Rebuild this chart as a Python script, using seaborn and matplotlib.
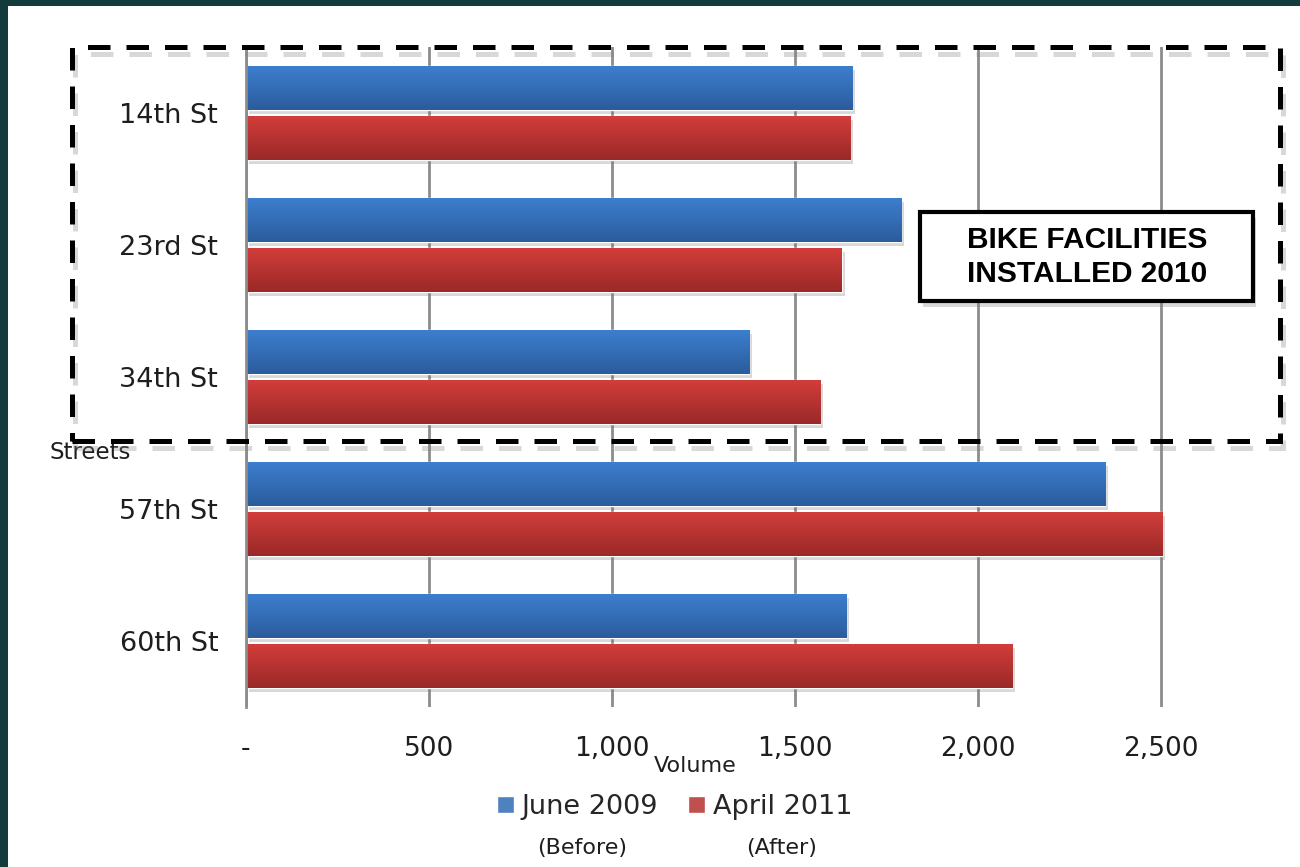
import numpy as np
import pandas as pd
import seaborn as sns
import matplotlib.pyplot as plt
import matplotlib.patheffects as pe
from matplotlib.patches import Rectangle
from matplotlib.colors import to_rgb

# Datos del gráfico
calles = ['14th St', '23rd St', '34th St', '57th St', '60th St']
junio_2009 = [1656, 1790, 1374, 2347, 1639]
abril_2011 = [1650, 1628, 1568, 2503, 2093]
periodos = ['June 2009', 'April 2011']
etiquetas_x = ['-', '500', '1,000', '1,500', '2,000', '2,500']
valores_x = [0, 500, 1000, 1500, 2000, 2500]

df = pd.DataFrame({
    'calle': calles * 2,
    'volumen': junio_2009 + abril_2011,
    'periodo': [periodos[0]] * len(calles) + [periodos[1]] * len(calles),
})

sns.set_style('white')
plt.rcParams['font.family'] = ['DejaVu Sans']

azul_claro, azul_oscuro = '#3d7fd0', '#2b5c9c'
rojo_claro, rojo_oscuro = '#d23e3b', '#9b2928'
texto = '#1e1e1e'

fig = plt.figure(figsize=(13, 8.67), dpi=100)
ax = fig.add_axes([0.1892, 0.1845, 0.7885, 0.7613])

sns.barplot(data=df, y='calle', x='volumen', hue='periodo', orient='h',
            palette=[azul_claro, rojo_claro], width=0.75, gap=0.11,
            ax=ax, legend=True)

# Degradado en cada barra
n = len(calles)
for i, barra in enumerate(ax.patches[:2 * n]):
    claro, oscuro = (azul_claro, azul_oscuro) if i < n else (rojo_claro, rojo_oscuro)
    c1, c2 = np.array(to_rgb(claro)), np.array(to_rgb(oscuro))
    t = np.linspace(0, 1, 64)[:, None, None]
    grad = c1 * (1 - t) + c2 * t
    x0, y0 = barra.get_x(), barra.get_y()
    w, h = barra.get_width(), barra.get_height()
    barra.set_path_effects([pe.SimplePatchShadow(offset=(2, -3), shadow_rgbFace='gray', alpha=0.3),
                            pe.Normal()])
    img = ax.imshow(grad, extent=[x0, x0 + w, y0 + h, y0], origin='upper',
                    aspect='auto', zorder=barra.get_zorder() + 0.1)
    img.set_clip_path(barra)

ax.set_xlim(0, 2800)
ax.set_ylim(n - 0.5, -0.5)

ax.set_xticks(valores_x)
ax.set_xticklabels(etiquetas_x, fontsize=19)
ax.tick_params(axis='x', length=0, pad=21)
ax.tick_params(axis='y', length=0, pad=20, labelsize=19.5)
for lbl in ax.get_yticklabels() + ax.get_xticklabels():
    lbl.set_color(texto)

ax.grid(axis='x', color='#8c8c8c', linewidth=2)
ax.grid(axis='y', visible=False)
ax.set_axisbelow(True)
for lado in ['top', 'right', 'bottom']:
    ax.spines[lado].set_visible(False)
ax.spines['left'].set_color('#8c8c8c')
ax.spines['left'].set_linewidth(2)

ax.set_xlabel('Volume', fontsize=16, color=texto)
ax.xaxis.set_label_coords(0.438, -0.074)
ax.set_ylabel('Streets', fontsize=16.5, rotation=0, ha='center', va='center', color=texto)
ax.yaxis.set_label_coords(-0.152, 0.385)

# Leyenda
handles, _ = ax.get_legend_handles_labels()
ax.legend(handles, periodos, loc='center', bbox_to_anchor=(0.519, 0.069),
          bbox_transform=fig.transFigure, ncol=2, frameon=False, fontsize=19.5,
          handlelength=0.62, handleheight=0.62, handletextpad=0.3, columnspacing=1.1)
fig.text(582 / 1300, 1 - 848 / 867, '(Before)', ha='center', va='center', fontsize=16, color=texto)
fig.text(782 / 1300, 1 - 848 / 867, '(After)', ha='center', va='center', fontsize=16, color=texto)

# Recuadro discontinuo
caja = Rectangle((72 / 1300, 1 - 441 / 867), 1208 / 1300, 394 / 867, transform=fig.transFigure,
                 fill=False, edgecolor='black', linewidth=3.6, linestyle=(0, (4.5, 3.2)), zorder=5)
caja.set_path_effects([pe.SimpleLineShadow(offset=(2, -5), shadow_color='gray', alpha=0.3),
                       pe.Normal()])
fig.patches.append(caja)

# Cuadro de texto
cuadro = Rectangle((920 / 1300, 1 - 301 / 867), 333 / 1300, 89 / 867, transform=fig.transFigure,
                   facecolor='white', edgecolor='black', linewidth=3, zorder=6)
cuadro.set_path_effects([pe.SimplePatchShadow(offset=(2, -4), shadow_rgbFace='gray', alpha=0.3),
                         pe.Normal()])
fig.patches.append(cuadro)
fig.text(1087 / 1300, 1 - 257 / 867, 'BIKE FACILITIES\nINSTALLED 2010', ha='center', va='center',
         fontsize=21.5, fontweight='bold', family=['Liberation Sans', 'DejaVu Sans'],
         color='black', linespacing=1.3, zorder=7)

# Marco oscuro
fig.patches.append(Rectangle((0, 1 - 6 / 867), 1, 6 / 867, transform=fig.transFigure,
                             facecolor='#123c3b', edgecolor='none'))
fig.patches.append(Rectangle((0, 0), 8 / 1300, 1, transform=fig.transFigure,
                             facecolor='#123c3b', edgecolor='none'))

fig.savefig('out.png', dpi=100)
